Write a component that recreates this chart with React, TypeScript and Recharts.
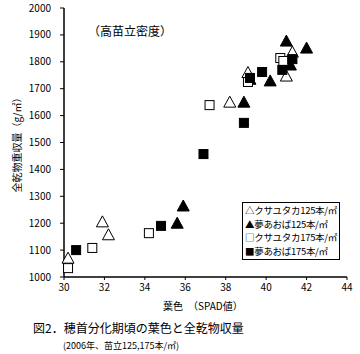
import React from 'react';
import { ScatterChart, Scatter, XAxis, YAxis } from 'recharts';

// クサユタカ 125本/㎡ (open triangle)
const kusaX125 = [30.2, 31.9, 32.2, 38.2, 39.1, 41.0, 41.3];
const kusaY125 = [1070, 1205, 1157, 1650, 1760, 1747, 1836];
// 夢あおば 125本/㎡ (filled triangle)
const yumeX125 = [35.6, 35.9, 38.9, 39.2, 40.2, 41.2, 41.0, 42.0];
const yumeY125 = [1200, 1264, 1650, 1735, 1729, 1788, 1877, 1851];
// クサユタカ 175本/㎡ (open square)
const kusaX175 = [30.2, 31.4, 34.2, 37.2, 39.1, 40.7, 40.85];
const kusaY175 = [1033, 1108, 1163, 1639, 1725, 1814, 1803];
// 夢あおば 175本/㎡ (filled square)
const yumeX175 = [30.6, 34.8, 36.9, 38.9, 39.2, 39.8, 40.8, 41.3];
const yumeY175 = [1100, 1190, 1457, 1573, 1740, 1762, 1770, 1810];

const xTicks = [30, 32, 34, 36, 38, 40, 42, 44];
const yTicks = [1000, 1100, 1200, 1300, 1400, 1500, 1600, 1700, 1800, 1900, 2000];

const seriesNames = ['クサユタカ125本/㎡', '夢あおば125本/㎡', 'クサユタカ175本/㎡', '夢あおば175本/㎡'];
const legendGlyphs = ['△', '▲', '□', '■'];

const toPoints = (xs: number[], ys: number[]) => xs.map((x, i) => ({ x, y: ys[i] }));

const FONT = '"MS PGothic", "Noto Sans CJK JP", sans-serif';

const Triangle = (filled: boolean) => (props: any) => {
  const { cx, cy } = props;
  const pts = `${cx},${cy - 6} ${cx - 6},${cy + 5} ${cx + 6},${cy + 5}`;
  return <polygon points={pts} fill={filled ? '#000' : '#fff'} stroke="#000" strokeWidth={1} />;
};

const Square = (filled: boolean) => (props: any) => {
  const { cx, cy } = props;
  return <rect x={cx - 4.5} y={cy - 4.5} width={9} height={9} fill={filled ? '#000' : '#fff'} stroke="#000" strokeWidth={1} />;
};

export default function App() {
  return (
    <div style={{ position: 'absolute', left: 0, top: 0, width: 360, height: 354, background: '#fff' }}>
      <ScatterChart width={360} height={354} margin={{ top: 8, right: 13, bottom: 47, left: 4 }}>
        <XAxis
          type="number"
          dataKey="x"
          domain={[30, 44]}
          ticks={xTicks}
          tickSize={3}
          tickMargin={4}
          axisLine={{ stroke: '#000', strokeWidth: 1.5 }}
          tickLine={{ stroke: '#000' }}
          tick={{ fill: '#000', fontSize: 10, fontFamily: FONT }}
          height={30}
        />
        <YAxis
          type="number"
          dataKey="y"
          domain={[1000, 2000]}
          ticks={yTicks}
          tickSize={4}
          tickMargin={9}
          axisLine={{ stroke: '#000', strokeWidth: 1.5 }}
          tickLine={{ stroke: '#000' }}
          tick={{ fill: '#000', fontSize: 10, fontFamily: FONT }}
          width={60}
          label={{ value: '全乾物重収量（g/㎡）', angle: -90, position: 'insideLeft', offset: 13, style: { fontSize: 10, fontFamily: FONT, fill: '#000', textAnchor: 'middle' } }}
        />
        <Scatter name={seriesNames[0]} data={toPoints(kusaX125, kusaY125)} shape={Triangle(false)} isAnimationActive={false} />
        <Scatter name={seriesNames[1]} data={toPoints(yumeX125, yumeY125)} shape={Triangle(true)} isAnimationActive={false} />
        <Scatter name={seriesNames[2]} data={toPoints(kusaX175, kusaY175)} shape={Square(false)} isAnimationActive={false} />
        <Scatter name={seriesNames[3]} data={toPoints(yumeX175, yumeY175)} shape={Square(true)} isAnimationActive={false} />
      </ScatterChart>
      <div style={{ position: 'absolute', left: 242, top: 202, border: '1px solid #000', background: '#fff', padding: '1px 2px', fontFamily: FONT, fontSize: 9.5, lineHeight: '13.5px', letterSpacing: -0.3 }}>
        {seriesNames.map((n, i) => (
          <div key={n} style={{ whiteSpace: 'nowrap' }}>{legendGlyphs[i]}{n}</div>
        ))}
      </div>
      <div style={{ position: 'absolute', left: 88, top: 22, fontFamily: FONT, fontSize: 12 }}>（高苗立密度）</div>
      <div style={{ position: 'absolute', left: 163, top: 298, fontFamily: FONT, fontSize: 10 }}>葉色　（SPAD値）</div>
      <div style={{ position: 'absolute', left: 33, top: 319, fontFamily: FONT, fontSize: 12 }}>図2．穂首分化期頃の葉色と全乾物収量</div>
      <div style={{ position: 'absolute', left: 63, top: 339, fontFamily: FONT, fontSize: 9 }}>(2006年、苗立125,175本/㎡)</div>
    </div>
  );
}
